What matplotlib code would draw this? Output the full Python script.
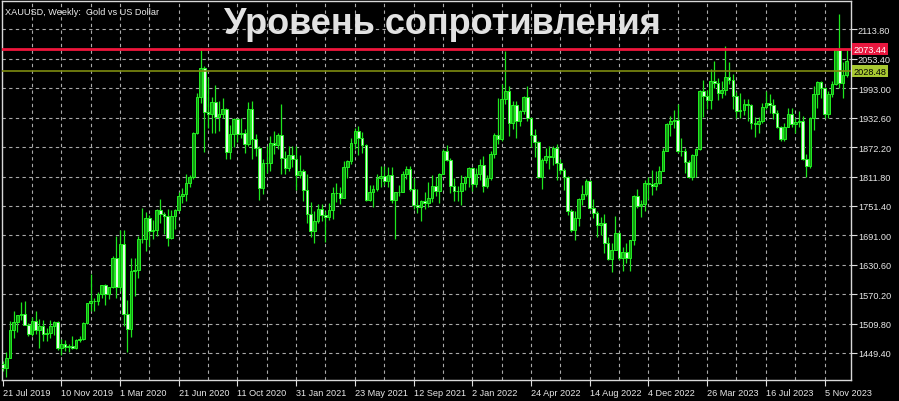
import numpy as np
from matplotlib import pyplot as plt

#%% # Weekly XAUUSD candles (21 Jul 2019 .. Dec 2023)

opens = [1426, 1419, 1440, 1497, 1513, 1527, 1529, 1506, 1488, 1516, 1497, 1504,
         1489, 1490, 1505, 1514, 1459, 1468, 1462, 1464, 1460, 1476, 1479, 1511,
         1552, 1557, 1557, 1571, 1589, 1570, 1584, 1644, 1585, 1674, 1530, 1499,
         1618, 1620, 1683, 1683, 1727, 1700, 1703, 1743, 1735, 1730, 1685, 1730,
         1744, 1771, 1775, 1798, 1810, 1902, 1975, 2035, 1944, 1940, 1964, 1934,
         1940, 1950, 1862, 1900, 1930, 1899, 1902, 1879, 1951, 1889, 1871, 1788,
         1839, 1839, 1881, 1877, 1898, 1849, 1829, 1856, 1848, 1814, 1824, 1784,
         1734, 1700, 1720, 1745, 1733, 1729, 1744, 1777, 1777, 1768, 1831, 1843,
         1881, 1905, 1891, 1877, 1764, 1781, 1787, 1808, 1812, 1802, 1814, 1763,
         1779, 1781, 1817, 1827, 1787, 1754, 1750, 1761, 1757, 1768, 1792, 1783,
         1818, 1865, 1846, 1792, 1783, 1782, 1798, 1811, 1829, 1797, 1817, 1835,
         1792, 1808, 1859, 1898, 1889, 1970, 1988, 1921, 1958, 1925, 1946, 1975,
         1932, 1897, 1883, 1811, 1846, 1853, 1851, 1871, 1840, 1826, 1811, 1742,
         1703, 1727, 1766, 1775, 1802, 1747, 1737, 1712, 1716, 1675, 1643, 1661,
         1695, 1644, 1657, 1645, 1681, 1771, 1751, 1755, 1798, 1797, 1793, 1798,
         1824, 1865, 1920, 1926, 1928, 1865, 1865, 1842, 1811, 1855, 1868, 1988,
         1978, 1969, 2007, 2004, 1983, 1990, 2017, 2011, 1977, 1946, 1948, 1961,
         1958, 1921, 1919, 1925, 1955, 1962, 1959, 1942, 1913, 1889, 1914, 1940,
         1919, 1924, 1925, 1848, 1833, 1932, 1981, 2006, 1993, 1940, 1981, 2002,
         2072, 2004, 2020]
highs = [1433, 1452, 1515, 1535, 1528, 1555, 1557, 1511, 1523, 1535, 1519, 1517,
         1500, 1518, 1516, 1516, 1479, 1477, 1468, 1485, 1479, 1485, 1514, 1553,
         1611, 1563, 1575, 1590, 1591, 1584, 1649, 1689, 1703, 1703, 1558, 1645,
         1645, 1690, 1747, 1739, 1733, 1722, 1745, 1765, 1739, 1745, 1744, 1746,
         1779, 1789, 1818, 1815, 1904, 1984, 2075, 2039, 2015, 1976, 2000, 1966,
         1973, 1952, 1917, 1932, 1933, 1933, 1910, 1965, 1966, 1899, 1875, 1848,
         1875, 1896, 1906, 1901, 1960, 1864, 1875, 1875, 1875, 1855, 1827, 1816,
         1760, 1740, 1755, 1755, 1740, 1758, 1790, 1798, 1790, 1843, 1845, 1890,
         1912, 1916, 1903, 1878, 1795, 1795, 1818, 1834, 1833, 1832, 1832, 1780,
         1795, 1823, 1834, 1834, 1809, 1787, 1764, 1781, 1800, 1814, 1810, 1819,
         1868, 1877, 1849, 1809, 1793, 1815, 1813, 1832, 1831, 1830, 1848, 1853,
         1815, 1865, 1902, 1974, 2002, 2070, 1998, 1966, 1966, 1948, 1978, 1998,
         1935, 1910, 1885, 1850, 1870, 1874, 1875, 1879, 1848, 1830, 1813, 1745,
         1740, 1767, 1795, 1807, 1805, 1765, 1740, 1729, 1735, 1688, 1675, 1730,
         1697, 1668, 1675, 1682, 1773, 1786, 1764, 1804, 1810, 1825, 1823, 1833,
         1871, 1922, 1937, 1949, 1960, 1890, 1870, 1846, 1858, 1871, 1990, 2010,
         1990, 2032, 2049, 2015, 2009, 2079, 2048, 2022, 1985, 1983, 1970, 1971,
         1960, 1934, 1935, 1963, 1987, 1982, 1970, 1948, 1916, 1922, 1953, 1953,
         1933, 1947, 1936, 1859, 1934, 1997, 2009, 2009, 1995, 1988, 2008, 2075,
         2146, 2047, 2072]
lows = [1412, 1400, 1440, 1480, 1492, 1517, 1506, 1484, 1484, 1488, 1459, 1474,
        1473, 1480, 1486, 1456, 1445, 1454, 1452, 1458, 1458, 1471, 1477, 1509,
        1536, 1536, 1547, 1563, 1547, 1561, 1583, 1563, 1577, 1504, 1451, 1482,
        1567, 1604, 1675, 1659, 1670, 1684, 1689, 1717, 1693, 1670, 1684, 1705,
        1741, 1757, 1762, 1790, 1807, 1900, 1963, 1863, 1911, 1902, 1902, 1906,
        1932, 1848, 1848, 1873, 1883, 1890, 1860, 1874, 1848, 1853, 1764, 1776,
        1820, 1823, 1859, 1868, 1816, 1817, 1823, 1832, 1785, 1808, 1761, 1717,
        1687, 1676, 1717, 1721, 1677, 1723, 1724, 1760, 1756, 1767, 1808, 1838,
        1868, 1855, 1861, 1761, 1762, 1750, 1782, 1791, 1794, 1790, 1758, 1683,
        1772, 1779, 1806, 1782, 1745, 1737, 1721, 1746, 1749, 1759, 1772, 1758,
        1816, 1843, 1778, 1762, 1762, 1753, 1785, 1790, 1782, 1791, 1805, 1780,
        1788, 1805, 1850, 1878, 1885, 1960, 1895, 1910, 1890, 1915, 1940, 1926,
        1872, 1851, 1808, 1786, 1840, 1828, 1836, 1805, 1816, 1785, 1732, 1697,
        1681, 1711, 1754, 1772, 1745, 1727, 1688, 1691, 1654, 1640, 1615, 1660,
        1640, 1617, 1634, 1617, 1672, 1747, 1728, 1740, 1765, 1773, 1784, 1796,
        1824, 1865, 1896, 1911, 1861, 1853, 1819, 1809, 1805, 1810, 1866, 1935,
        1950, 1950, 1993, 1969, 1974, 1979, 2001, 1951, 1932, 1933, 1938, 1925,
        1910, 1893, 1902, 1921, 1950, 1942, 1929, 1911, 1885, 1885, 1913, 1914,
        1901, 1913, 1846, 1810, 1830, 1908, 1953, 1974, 1931, 1931, 1975, 1999,
        1994, 1973, 2016]
closes = [1419, 1440, 1497, 1513, 1527, 1529, 1506, 1488, 1516, 1497, 1504, 1489,
          1490, 1505, 1514, 1459, 1468, 1462, 1464, 1460, 1476, 1479, 1511, 1552,
          1557, 1557, 1571, 1589, 1570, 1584, 1644, 1585, 1674, 1530, 1499, 1618,
          1620, 1683, 1683, 1727, 1700, 1703, 1743, 1735, 1730, 1685, 1730, 1744,
          1771, 1775, 1798, 1810, 1902, 1975, 2035, 1944, 1940, 1964, 1934, 1940,
          1950, 1862, 1900, 1930, 1899, 1902, 1879, 1951, 1889, 1871, 1788, 1839,
          1839, 1881, 1877, 1898, 1849, 1829, 1856, 1848, 1814, 1824, 1784, 1734,
          1700, 1720, 1745, 1733, 1729, 1744, 1777, 1777, 1768, 1831, 1843, 1881,
          1905, 1891, 1877, 1764, 1781, 1787, 1808, 1812, 1802, 1814, 1763, 1779,
          1781, 1817, 1827, 1787, 1754, 1750, 1761, 1757, 1768, 1792, 1783, 1818,
          1865, 1846, 1792, 1783, 1782, 1798, 1811, 1829, 1797, 1817, 1835, 1792,
          1808, 1859, 1898, 1889, 1970, 1988, 1921, 1958, 1925, 1946, 1975, 1932,
          1897, 1883, 1811, 1846, 1853, 1851, 1871, 1840, 1826, 1811, 1742, 1703,
          1727, 1766, 1775, 1802, 1747, 1737, 1712, 1716, 1675, 1643, 1661, 1695,
          1644, 1657, 1645, 1681, 1771, 1751, 1755, 1798, 1797, 1793, 1798, 1824,
          1865, 1920, 1926, 1928, 1865, 1865, 1842, 1811, 1855, 1868, 1988, 1978,
          1969, 2007, 2004, 1983, 1990, 2017, 2011, 1977, 1946, 1948, 1961, 1958,
          1921, 1919, 1925, 1955, 1962, 1959, 1942, 1913, 1889, 1914, 1940, 1919,
          1924, 1925, 1848, 1833, 1932, 1981, 2006, 1993, 1940, 1981, 2002, 2072,
          2004, 2020, 2050]

date_labels = ['21 Jul 2019', '10 Nov 2019', '1 Mar 2020', '21 Jun 2020', '11 Oct 2020',
               '31 Jan 2021', '23 May 2021', '12 Sep 2021', '2 Jan 2022', '24 Apr 2022',
               '14 Aug 2022', '4 Dec 2022', '26 Mar 2023', '16 Jul 2023', '5 Nov 2023']
price_ticks = [1449.40, 1509.80, 1570.20, 1630.60, 1691.00, 1751.40, 1811.80,
               1872.20, 1932.60, 1993.00, 2053.40, 2113.80]
resistance = 2073.44
bid = 2028.48

#%% # Plot

o = np.array(opens, dtype=float)
h = np.array(highs, dtype=float)
l = np.array(lows, dtype=float)
c = np.array(closes, dtype=float)
x = np.arange(len(c))
up = c >= o

fig = plt.figure(figsize=(8.99, 4.02), dpi=100, facecolor='black')
ax = fig.add_axes([2/899, 21/402, 849/899, 379/402], facecolor='black')

# grid
for p in price_ticks:
    ax.axhline(p, color='#a9a9a9', lw=0.8, ls=(0, (3, 3)), zorder=1)
for g in range(8, len(c) + 1, 8):
    ax.axvline(g, color='#a9a9a9', lw=0.8, ls=(0, (3, 3)), zorder=1)

# candles
ax.vlines(x, l, h, color='#1ee61e', lw=0.9, zorder=2)
ax.bar(x[up], (c - o)[up], bottom=o[up], width=0.72, color='#129a12',
       edgecolor='#22f022', lw=0.7, zorder=3)
ax.bar(x[~up], (o - c)[~up], bottom=c[~up], width=0.72, color='#e6fbe6',
       edgecolor='#22f022', lw=0.7, zorder=3)

# levels
ax.axhline(resistance, color='#f0163c', lw=2, zorder=4)
ax.axhline(bid, color='#7d8c10', lw=1.2, zorder=4)

ax.set_xlim(-0.14, 231.2)
ax.set_ylim(1393.9, 2172.3)

ax.yaxis.tick_right()
ax.set_yticks(price_ticks)
ax.set_yticklabels(['%.2f' % p for p in price_ticks])
ax.set_xticks(np.arange(0, 16 * len(date_labels), 16))
ax.set_xticklabels(date_labels)
for lbl in ax.get_xticklabels():
    lbl.set_ha('left')
ax.tick_params(colors='#dddddd', labelcolor='#e8e8e8', length=4, width=0.8,
               labelsize=6.6, pad=1)
ax.tick_params(axis='x', pad=2)
for lbl in ax.get_xticklabels() + ax.get_yticklabels():
    lbl.set_family('Liberation Sans')
for s in ax.spines.values():
    s.set_color('#d8d8d8')
    s.set_linewidth(1)

# price boxes on the right scale
ax.text(1.0035, resistance, '%.2f' % resistance, transform=ax.get_yaxis_transform(),
        ha='left', va='center', fontsize=6.6, family='Liberation Sans', color='white',
        bbox=dict(boxstyle='square,pad=0.18', fc='#e8173f', ec='none'), clip_on=False, zorder=6)
ax.text(1.0035, bid, '%.2f' % bid, transform=ax.get_yaxis_transform(),
        ha='left', va='center', fontsize=6.6, family='Liberation Sans', color='black',
        bbox=dict(boxstyle='square,pad=0.18', fc='#a8c832', ec='none'), clip_on=False, zorder=6)

# texts
ax.text(0.004, 0.985, 'XAUUSD, Weekly:  Gold vs US Dollar', transform=ax.transAxes,
        ha='left', va='top', fontsize=6.6, family='Liberation Sans', color='#eeeeee', zorder=6)
fig.text(442/899, 1 - 25/402, 'Уровень сопротивления', ha='center', va='center',
         fontsize=26, fontweight='bold', family='Liberation Sans', color='#e2e2e2', zorder=7)

plt.savefig('out.png', dpi=100, facecolor='black')
